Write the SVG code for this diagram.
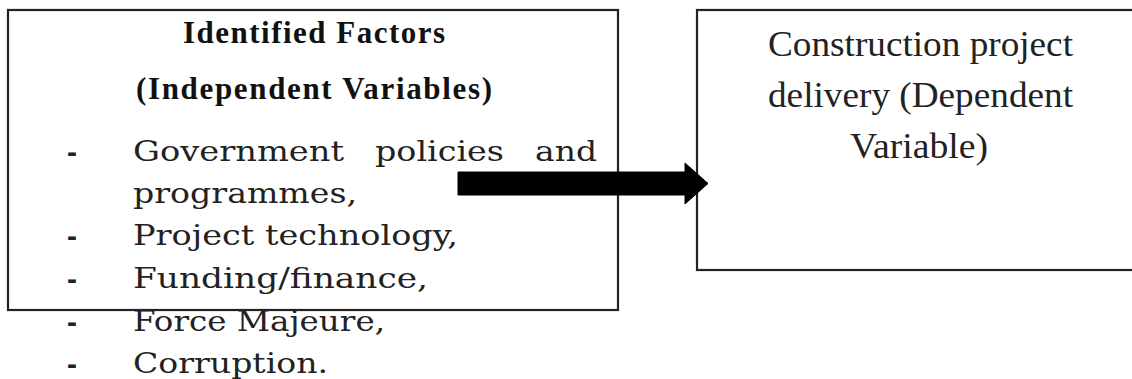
<svg xmlns="http://www.w3.org/2000/svg" width="1132" height="379" viewBox="0 0 1132 379">
<style>
.box{fill:#fff;stroke:#222;stroke-width:2.2}
.hd{font-family:"Liberation Serif","Times New Roman",serif;font-weight:bold;font-size:31px;fill:#111}
.li{font-family:"DejaVu Serif","Liberation Serif",serif;font-size:28px;fill:#222}
.dash{font-family:"Liberation Sans",sans-serif;font-weight:bold;font-size:30px;fill:#222}
.rt{font-family:"Liberation Serif","Times New Roman",serif;font-size:35px;fill:#222}
</style>
<g id="independent">
<rect class="box" x="8" y="10" width="610" height="300"/>
<text class="hd" x="183" y="43" textLength="262" lengthAdjust="spacing">Identified Factors</text>
<text class="hd" x="136" y="99" textLength="356" lengthAdjust="spacing">(Independent Variables)</text>
<g class="dash">
<text x="67" y="162">-</text>
<text x="67" y="246">-</text>
<text x="67" y="289">-</text>
<text x="67" y="332">-</text>
<text x="67" y="374">-</text>
</g>
<g class="li">
<text x="133" y="161" textLength="211" lengthAdjust="spacingAndGlyphs">Government</text>
<text x="375" y="161" textLength="129" lengthAdjust="spacingAndGlyphs">policies</text>
<text x="535" y="161" textLength="62" lengthAdjust="spacingAndGlyphs">and</text>
<text x="133" y="203" textLength="224" lengthAdjust="spacingAndGlyphs">programmes,</text>
<text x="133" y="245" textLength="325" lengthAdjust="spacingAndGlyphs">Project technology,</text>
<text x="133" y="288" textLength="295" lengthAdjust="spacingAndGlyphs">Funding/finance,</text>
<text x="133" y="331" textLength="252" lengthAdjust="spacingAndGlyphs">Force Majeure,</text>
<text x="133" y="373" textLength="195" lengthAdjust="spacingAndGlyphs">Corruption.</text>
</g>
</g>
<g id="dependent">
<rect class="box" x="697" y="10" width="445" height="260"/>
<text class="rt" x="768" y="56" textLength="305" lengthAdjust="spacingAndGlyphs">Construction project</text>
<text class="rt" x="768" y="107" textLength="305" lengthAdjust="spacingAndGlyphs">delivery (Dependent</text>
<text class="rt" x="850" y="158" textLength="138" lengthAdjust="spacingAndGlyphs">Variable)</text>
</g>
<g id="connectors">
<path d="M458,172 L685,172 L685,163 L708,183.5 L685,204 L685,195 L458,195 Z" fill="#000" stroke="#000" stroke-width="1" stroke-linejoin="round"/>
</g>
</svg>
